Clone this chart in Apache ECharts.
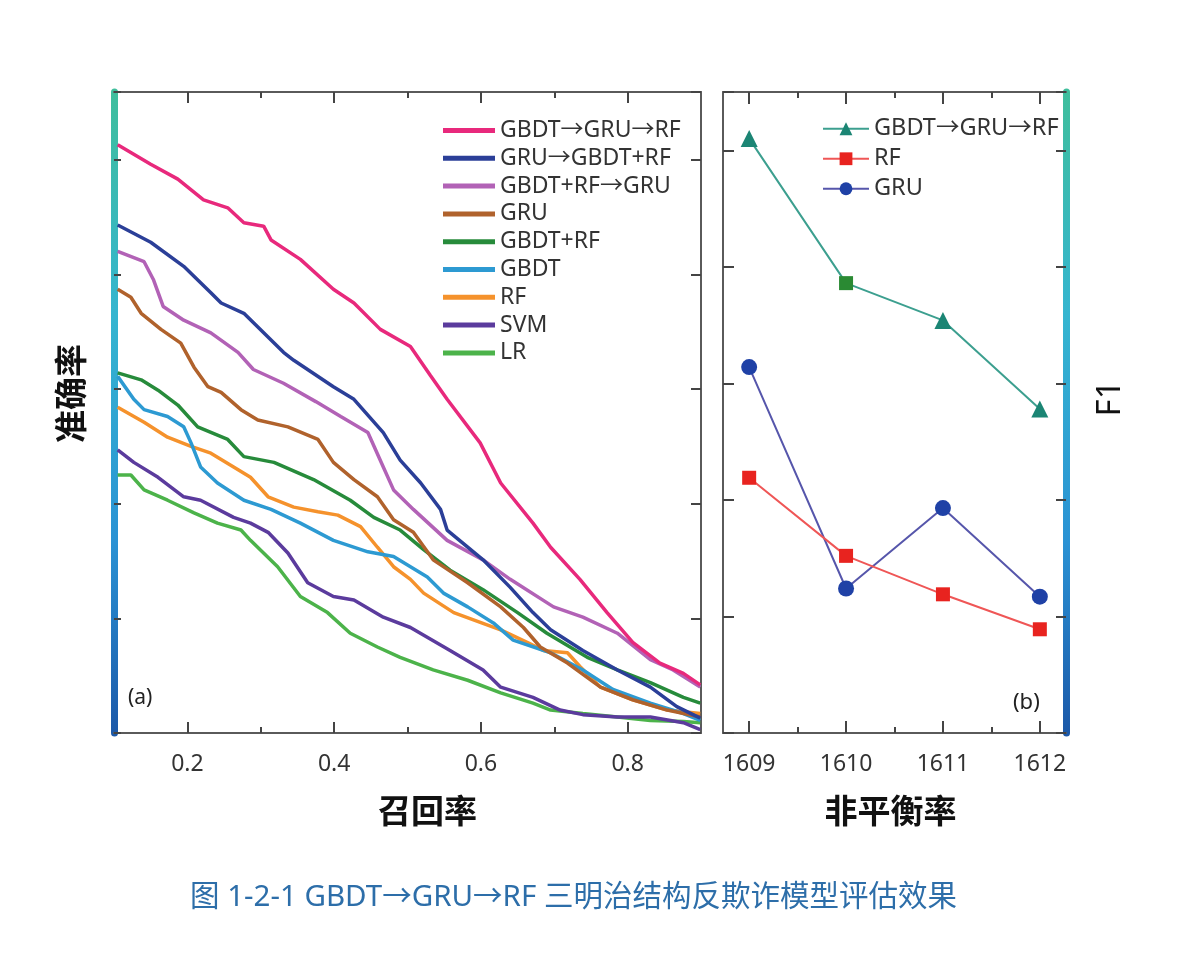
<!DOCTYPE html>
<html>
<head>
<meta charset="utf-8">
<script src="https://cdn.jsdelivr.net/npm/echarts@6/dist/echarts.min.js"></script>
<style>html,body{margin:0;padding:0;background:#fff}#c{width:1202px;height:958px}</style>
</head>
<body>
<div id="c"></div>
<script>
// ---------- data: panel (a) precision-recall curves ----------
const namesA = ['GBDT→GRU→RF', 'GRU→GBDT+RF', 'GBDT+RF→GRU', 'GRU', 'GBDT+RF', 'GBDT', 'RF', 'SVM', 'LR'];
const curveSandwich = [[0.105,5.13],[0.150,4.96],[0.187,4.83],[0.222,4.65],[0.255,4.58],[0.277,4.45],[0.304,4.42],[0.314,4.30],[0.354,4.13],[0.399,3.87],[0.427,3.75],[0.463,3.52],[0.504,3.37],[0.531,3.12],[0.554,2.91],[0.599,2.53],[0.627,2.18],[0.671,1.83],[0.695,1.62],[0.735,1.34],[0.772,1.05],[0.807,0.79],[0.844,0.61],[0.876,0.52],[0.899,0.42]];
const curveGruGbdtRf = [[0.105,4.43],[0.150,4.28],[0.195,4.07],[0.232,3.84],[0.246,3.75],[0.277,3.66],[0.331,3.32],[0.345,3.25],[0.399,3.02],[0.427,2.91],[0.467,2.62],[0.490,2.38],[0.518,2.18],[0.545,1.95],[0.554,1.77],[0.603,1.51],[0.640,1.27],[0.671,1.05],[0.695,0.90],[0.739,0.72],[0.786,0.55],[0.831,0.40],[0.867,0.23],[0.899,0.13]];
const curveGbdtRfGru = [[0.105,4.20],[0.141,4.11],[0.154,3.95],[0.167,3.72],[0.195,3.60],[0.232,3.49],[0.269,3.32],[0.290,3.17],[0.331,3.05],[0.375,2.89],[0.409,2.76],[0.446,2.62],[0.467,2.32],[0.481,2.12],[0.508,1.95],[0.554,1.68],[0.603,1.51],[0.640,1.34],[0.699,1.10],[0.739,1.01],[0.786,0.87],[0.831,0.64],[0.862,0.55],[0.899,0.40]];
const curveGru = [[0.105,3.87],[0.123,3.80],[0.137,3.66],[0.164,3.52],[0.191,3.40],[0.209,3.19],[0.228,3.02],[0.246,2.97],[0.273,2.82],[0.296,2.73],[0.337,2.67],[0.378,2.56],[0.399,2.36],[0.427,2.21],[0.459,2.06],[0.481,1.86],[0.508,1.75],[0.535,1.51],[0.582,1.31],[0.627,1.10],[0.658,0.92],[0.681,0.75],[0.718,0.61],[0.763,0.40],[0.807,0.29],[0.854,0.20],[0.899,0.14]];
const curveGbdtRf = [[0.105,3.14],[0.137,3.08],[0.160,2.99],[0.187,2.86],[0.214,2.67],[0.255,2.56],[0.277,2.41],[0.318,2.36],[0.372,2.21],[0.422,2.03],[0.454,1.88],[0.490,1.77],[0.522,1.60],[0.558,1.42],[0.603,1.25],[0.650,1.05],[0.690,0.87],[0.745,0.66],[0.786,0.55],[0.831,0.44],[0.876,0.31],[0.899,0.26]];
const curveGbdt = [[0.105,3.11],[0.127,2.91],[0.141,2.82],[0.173,2.76],[0.195,2.67],[0.205,2.53],[0.218,2.32],[0.241,2.18],[0.277,2.03],[0.314,1.95],[0.354,1.83],[0.399,1.68],[0.446,1.58],[0.481,1.54],[0.504,1.45],[0.527,1.36],[0.549,1.22],[0.582,1.10],[0.617,0.96],[0.644,0.81],[0.695,0.70],[0.739,0.55],[0.780,0.38],[0.831,0.26],[0.876,0.17],[0.899,0.11]];
const curveRf = [[0.105,2.84],[0.141,2.71],[0.173,2.58],[0.205,2.50],[0.232,2.44],[0.263,2.32],[0.286,2.23],[0.310,2.06],[0.345,1.97],[0.378,1.93],[0.405,1.90],[0.436,1.80],[0.459,1.62],[0.481,1.45],[0.504,1.34],[0.522,1.22],[0.563,1.05],[0.627,0.90],[0.663,0.79],[0.685,0.72],[0.718,0.70],[0.735,0.58],[0.763,0.40],[0.807,0.29],[0.854,0.20],[0.899,0.17]];
const curveSvm = [[0.105,2.47],[0.127,2.36],[0.160,2.23],[0.195,2.06],[0.218,2.03],[0.263,1.88],[0.286,1.83],[0.310,1.75],[0.337,1.57],[0.364,1.31],[0.399,1.19],[0.427,1.16],[0.467,1.01],[0.504,0.92],[0.558,0.72],[0.603,0.55],[0.627,0.40],[0.671,0.31],[0.708,0.20],[0.739,0.16],[0.786,0.14],[0.831,0.14],[0.876,0.09],[0.899,0.03]];
const curveLr = [[0.105,2.25],[0.123,2.25],[0.141,2.12],[0.173,2.03],[0.209,1.92],[0.241,1.83],[0.273,1.77],[0.286,1.68],[0.323,1.45],[0.354,1.19],[0.391,1.05],[0.422,0.87],[0.459,0.75],[0.490,0.66],[0.535,0.55],[0.582,0.46],[0.627,0.35],[0.671,0.26],[0.695,0.20],[0.739,0.17],[0.786,0.14],[0.831,0.11],[0.876,0.10],[0.899,0.09]];
const xTicksA = [0.2, 0.4, 0.6, 0.8];
const xMinorA = [0.3, 0.5, 0.7];

// ---------- data: panel (b) F1 vs imbalance ----------
const namesB = ['GBDT→GRU→RF', 'RF', 'GRU'];
const imbalance = [1609, 1610, 1611, 1612];
const f1Sandwich = [5.10, 3.86, 3.54, 2.78];
const f1Rf = [2.19, 1.52, 1.19, 0.89];
const f1Gru = [3.14, 1.24, 1.93, 1.17];
const xTicksB = [1609, 1610, 1611, 1612];
const xMinorB = [1609.5, 1610.5, 1611.5];

// ---------- styling ----------
const FONT = "'Noto Sans', 'Noto Sans CJK SC', sans-serif";
const CJK = "'Noto Sans CJK SC', 'Noto Sans', sans-serif";
const colorsA = ['#e8297c', '#2b3f98', '#b262b6', '#b0622c', '#278b3b', '#2d9ad2', '#f5922c', '#5b3b9d', '#4cb34a'];
const curvesA = [curveSandwich, curveGruGbdtRf, curveGbdtRfGru, curveGru, curveGbdtRf, curveGbdt, curveRf, curveSvm, curveLr];
const SUFFIX = ' (b)';
const grad = () => new echarts.graphic.LinearGradient(0, 0, 0, 1, [
  {offset: 0, color: '#3fbe9c'},
  {offset: 0.35, color: '#35b5d0'},
  {offset: 0.7, color: '#2a92d4'},
  {offset: 1, color: '#1b58a8'}
]);
const GRAY = '#5a5a5a';

function xAxisDef(grid, pos, min, max, ticks, len, withLine, labels, name, namePad) {
  return {
    type: 'value', gridIndex: grid, position: pos, min: min, max: max,
    axisLine: {show: withLine, onZero: false, lineStyle: {color: GRAY, width: 2}},
    axisTick: {show: true, inside: true, length: len, customValues: ticks, lineStyle: {color: '#444', width: 2}},
    axisLabel: labels ? {show: true, customValues: ticks, formatter: labels, margin: 20, fontSize: 23, color: '#333', fontFamily: FONT} : {show: false},
    splitLine: {show: false},
    name: name || '', nameLocation: 'middle', nameGap: 61,
    nameTextStyle: {fontSize: 33, fontWeight: 'bold', color: '#111', fontFamily: CJK, padding: namePad || 0}
  };
}

const option = {
  animation: false,
  backgroundColor: '#fff',
  grid: [
    {left: 114, top: 92, width: 587, height: 641},
    {left: 723, top: 92, width: 343, height: 641}
  ],
  xAxis: [
    xAxisDef(0, 'bottom', 0.1, 0.9, xTicksA, 11, true, v => v.toFixed(1), '召回率', [0, 0, 0, 40]),
    xAxisDef(0, 'top', 0.1, 0.9, xTicksA, 11, true, null),
    xAxisDef(0, 'bottom', 0.1, 0.9, xMinorA, 6, false, null),
    xAxisDef(0, 'top', 0.1, 0.9, xMinorA, 6, false, null),
    xAxisDef(1, 'bottom', 1608.73, 1612.27, xTicksB, 12, true, v => String(v), '非平衡率', [0, 8, 0, 0]),
    xAxisDef(1, 'top', 1608.73, 1612.27, xTicksB, 12, true, null),
    xAxisDef(1, 'bottom', 1608.73, 1612.27, xMinorB, 6, false, null),
    xAxisDef(1, 'top', 1608.73, 1612.27, xMinorB, 6, false, null)
  ],
  yAxis: [
    {type: 'value', gridIndex: 0, position: 'left', min: 0, max: 5.59, interval: 1,
     axisLine: {show: true, onZero: false, lineStyle: {color: grad(), width: 7}},
     axisTick: {show: true, inside: true, length: 7, lineStyle: {color: '#444', width: 2}},
     axisLabel: {show: false}, splitLine: {show: false},
     name: '准确率', nameLocation: 'middle', nameRotate: 90, nameGap: 27,
     nameTextStyle: {fontSize: 33, fontWeight: 'bold', color: '#111', fontFamily: CJK, padding: [0, 0, 0, 38]}},
    {type: 'value', gridIndex: 0, position: 'right', min: 0, max: 5.59, interval: 1,
     axisLine: {show: true, onZero: false, lineStyle: {color: GRAY, width: 2}},
     axisTick: {show: true, inside: true, length: 10, lineStyle: {color: '#444', width: 2}},
     axisLabel: {show: false}, splitLine: {show: false}},
    {type: 'value', gridIndex: 1, position: 'left', min: 0, max: 5.5, interval: 1,
     axisLine: {show: true, onZero: false, lineStyle: {color: GRAY, width: 2}},
     axisTick: {show: true, inside: true, length: 11, lineStyle: {color: '#444', width: 2}},
     axisLabel: {show: false}, splitLine: {show: false}},
    {type: 'value', gridIndex: 1, position: 'right', min: 0, max: 5.5, interval: 1,
     axisLine: {show: true, onZero: false, lineStyle: {color: grad(), width: 7}},
     axisTick: {show: true, inside: true, length: 10, lineStyle: {color: '#444', width: 2}},
     axisLabel: {show: false}, splitLine: {show: false},
     name: 'F1', nameLocation: 'middle', nameRotate: 90, nameGap: 28,
     nameTextStyle: {fontSize: 33, color: '#111', fontFamily: FONT, padding: [0, 0, 0, 28]}}
  ],
  legend: [
    {orient: 'vertical', left: 443, top: 119, padding: 0, itemWidth: 52, itemHeight: 5, itemGap: 4.8,
     icon: 'rect', data: namesA, selectedMode: false,
     textStyle: {fontSize: 23, lineHeight: 22, color: '#333', fontFamily: FONT}},
    {orient: 'vertical', left: 822, top: 117, padding: 0, itemWidth: 46, itemHeight: 16, itemGap: 6.5,
     data: namesB.map(n => n + SUFFIX), selectedMode: false, lineStyle: {width: 2},
     formatter: n => n.replace(SUFFIX, ''),
     textStyle: {fontSize: 23.5, lineHeight: 22, color: '#333', fontFamily: FONT}}
  ],
  series: [],
  graphic: [
    {type: 'text', left: 128, top: 688, style: {text: '(a)', fontSize: 21, fill: '#222', fontFamily: FONT}},
    {type: 'text', left: 1013, top: 692, style: {text: '(b)', fontSize: 22, fill: '#222', fontFamily: FONT}},
    {type: 'text', left: 190, top: 883, style: {text: '图 1-2-1 GBDT→GRU→RF 三明治结构反欺诈模型评估效果', fontSize: 29.5, fill: '#2d6ea9', fontFamily: FONT}}
  ]
};

// panel (a) series (drawn bottom-up so the first is on top)
for (let i = curvesA.length - 1; i >= 0; i--) {
  option.series.push({
    name: namesA[i], type: 'line', xAxisIndex: 0, yAxisIndex: 0,
    symbol: 'none', data: curvesA[i], z: 10 - i,
    lineStyle: {width: 3.5, color: colorsA[i]}, itemStyle: {color: colorsA[i]}
  });
}
// panel (b) series
const bSpecs = [
  {vals: f1Sandwich, line: '#3c9f8f', mark: '#1b8574', symbol: 'triangle', size: 17},
  {vals: f1Rf, line: '#ef5656', mark: '#e8231f', symbol: 'rect', size: 14},
  {vals: f1Gru, line: '#5656ab', mark: '#1f41a6', symbol: 'circle', size: 16}
];
bSpecs.forEach((s, k) => {
  option.series.push({
    name: namesB[k] + SUFFIX, type: 'line', xAxisIndex: 4, yAxisIndex: 2,
    symbol: s.symbol, symbolSize: s.size, showSymbol: true,
    data: imbalance.map((x, i) => {
      const item = {value: [x, s.vals[i]]};
      if (k === 0 && i === 1) { item.symbol = 'rect'; item.symbolSize = 14; item.itemStyle = {color: '#2a8a33'}; }
      return item;
    }),
    lineStyle: {width: 2, color: s.line}, itemStyle: {color: s.mark}, z: 5 - k
  });
});

const chart = echarts.init(document.getElementById('c'), null, {renderer: 'canvas'});
chart.setOption(option);
</script>
</body>
</html>
